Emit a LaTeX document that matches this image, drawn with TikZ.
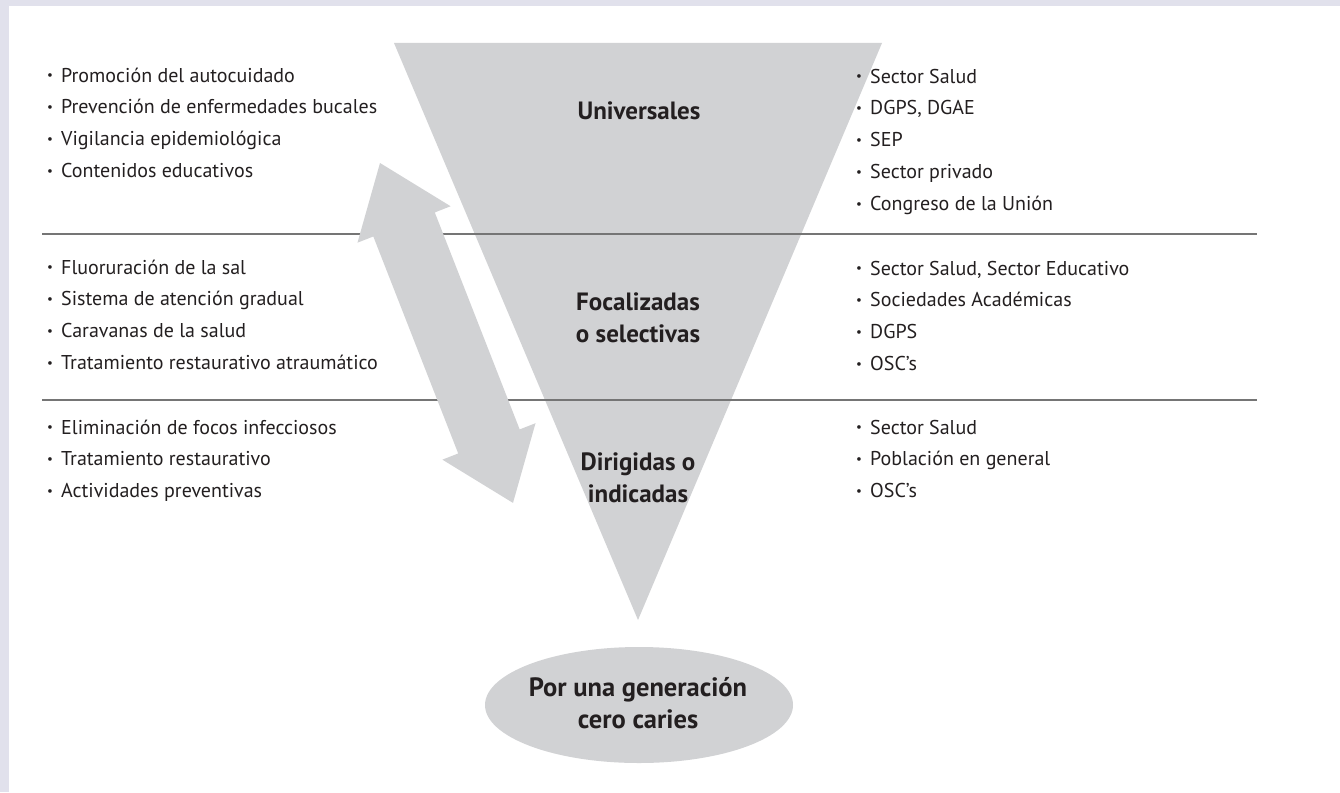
\documentclass[tikz,border=0pt]{standalone}
\usepackage{fontspec}
\setmainfont{PT Sans}
\usepackage{graphicx}
\usetikzlibrary{shapes.geometric}
\definecolor{ink}{HTML}{231F20}
\definecolor{funnelgray}{HTML}{D1D2D4}
\definecolor{sepgray}{HTML}{757575}
\definecolor{lav}{HTML}{E1E1EC}
\newcommand\bul{\makebox[14pt][l]{\raisebox{0.22ex}{\scalebox{0.65}{•}}}}
\tikzset{
  item/.style={anchor=base west, inner sep=0pt, font=\fontsize{20}{24}\selectfont, text=ink},
  lab/.style={anchor=base, inner sep=0pt, font=\bfseries\fontsize{25}{28}\selectfont, text=ink},
  goaltext/.style={lab, font=\bfseries\fontsize{26.5}{30}\selectfont},
  sepline/.style={draw=sepgray, line width=2.6pt},
  greyshape/.style={fill=funnelgray, draw=none}
}
\begin{document}
\begin{tikzpicture}[x=1pt, y=-1pt]
\useasboundingbox (0,0) rectangle (1340,792);
% background
\fill[lav] (0,0) rectangle (1340,792);
\fill[white] (9,6) rectangle (1340,792);
% funnel
\fill[greyshape] (394,43) -- (882,43) -- (638,620) -- cycle;
% separators
\draw[sepline] (42,234) -- (1257,234);
\draw[sepline] (42,400) -- (1257,400);
% double arrow
\begin{scope}[shift={(380,163)}, rotate=-68.63]
\fill[greyshape] (0,0) -- (66,50) -- (66,33) -- (299,33) -- (299,50) -- (365,0)
  -- (299,-50) -- (299,-33) -- (66,-33) -- (66,-50) -- cycle;
\end{scope}
% goal ellipse
\node[ellipse, greyshape, minimum width=308pt, minimum height=116pt, inner sep=0pt] (goal) at (639,705) {};
\node[goaltext] (goal1) at (638,696) {Por una generación};
\node[goaltext] (goal2) at (638,728) {cero caries};
% level labels
\node[lab] (univ) at (639,119) {Universales};
\node[lab] (foc1) at (638,310) {Focalizadas};
\node[lab] (foc2) at (638,342) {o selectivas};
\node[lab] (dir1) at (638,470) {Dirigidas o};
\node[lab] (dir2) at (638,502) {indicadas};
% left lists
\foreach \t [count=\i] in {Promoción del autocuidado, Prevención de enfermedades bucales, Vigilancia epidemiológica, Contenidos educativos}
  \node[item] (tl\i) at (47, {82+31.8*(\i-1)}) {\bul\t};
\foreach \t [count=\i] in {Fluoruración de la sal, Sistema de atención gradual, Caravanas de la salud, Tratamiento restaurativo atraumático}
  \node[item] (ml\i) at (47, {274+31.8*(\i-1)}) {\bul\t};
\foreach \t [count=\i] in {Eliminación de focos infecciosos, Tratamiento restaurativo, Actividades preventivas}
  \node[item] (bl\i) at (47, {434+31.8*(\i-1)}) {\bul\t};
% right lists
\foreach \t [count=\i] in {Sector Salud, {DGPS, DGAE}, SEP, Sector privado, Congreso de la Unión}
  \node[item] (tr\i) at (856, {83+31.8*(\i-1)}) {\bul\t};
\foreach \t [count=\i] in {{Sector Salud, Sector Educativo}, Sociedades Académicas, DGPS, OSC’s}
  \node[item] (mr\i) at (856, {275+31.8*(\i-1)}) {\bul\t};
\foreach \t [count=\i] in {Sector Salud, Población en general, OSC’s}
  \node[item] (br\i) at (856, {434+31.8*(\i-1)}) {\bul\t};
\end{tikzpicture}
\end{document}
